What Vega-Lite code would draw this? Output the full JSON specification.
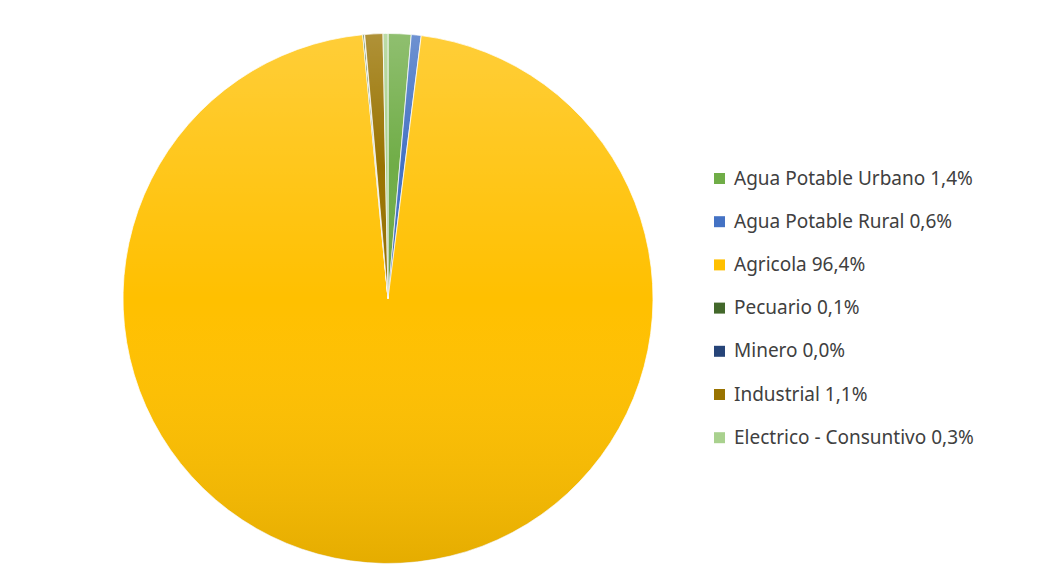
{
  "$schema": "https://vega.github.io/schema/vega-lite/v6.json",
  "width": 776,
  "height": 587,
  "autosize": {"type": "none"},
  "padding": {"left": 0, "top": 5, "right": 274, "bottom": 0},
  "background": "white",
  "config": {"view": {"stroke": null}},
  "data": {
    "values": [
      {"idx": 1, "label": "Agua Potable Urbano 1,4%", "value": 1.4},
      {"idx": 2, "label": "Agua Potable Rural 0,6%", "value": 0.6},
      {"idx": 3, "label": "Agricola 96,4%", "value": 96.4},
      {"idx": 4, "label": "Pecuario 0,1%", "value": 0.1},
      {"idx": 5, "label": "Minero 0,0%", "value": 0.02},
      {"idx": 6, "label": "Industrial 1,1%", "value": 1.1},
      {"idx": 7, "label": "Electrico - Consuntivo 0,3%", "value": 0.3}
    ]
  },
  "layer": [
    {
      "mark": {"type": "arc", "outerRadius": 265, "stroke": "#ffffff", "strokeWidth": 0.75},
      "encoding": {
        "theta": {"field": "value", "type": "quantitative", "stack": true},
        "order": {"field": "idx", "type": "quantitative"},
        "color": {
          "field": "label",
          "type": "nominal",
          "scale": {
            "domain": ["Agua Potable Urbano 1,4%", "Agua Potable Rural 0,6%", "Agricola 96,4%", "Pecuario 0,1%", "Minero 0,0%", "Industrial 1,1%", "Electrico - Consuntivo 0,3%"],
            "range": ["#70AD47", "#4472C4", "#FFC000", "#43682B", "#264478", "#997300", "#A9D18E"]
          },
          "legend": {
            "title": null,
            "orient": "none",
            "legendX": 710,
            "legendY": 164,
            "padding": 0,
            "symbolType": "square",
            "symbolSize": 121,
            "symbolStrokeWidth": 0,
            "labelFont": "Noto Sans",
            "labelFontSize": 19,
            "labelColor": "#404040",
            "labelOffset": 5,
            "rowPadding": 23.2,
            "labelLimit": 400
          }
        }
      }
    },
    {
      "mark": {
        "type": "arc",
        "outerRadius": 265,
        "color": {
          "x1": 0, "y1": 0, "x2": 0, "y2": 1,
          "gradient": "linear",
          "stops": [
            {"offset": 0, "color": "rgba(255,255,255,0.22)"},
            {"offset": 0.5, "color": "rgba(255,255,255,0)"},
            {"offset": 1, "color": "rgba(0,0,0,0.1)"}
          ]
        }
      },
      "encoding": {
        "theta": {"field": "value", "type": "quantitative", "stack": true},
        "order": {"field": "idx", "type": "quantitative"}
      }
    }
  ]
}
